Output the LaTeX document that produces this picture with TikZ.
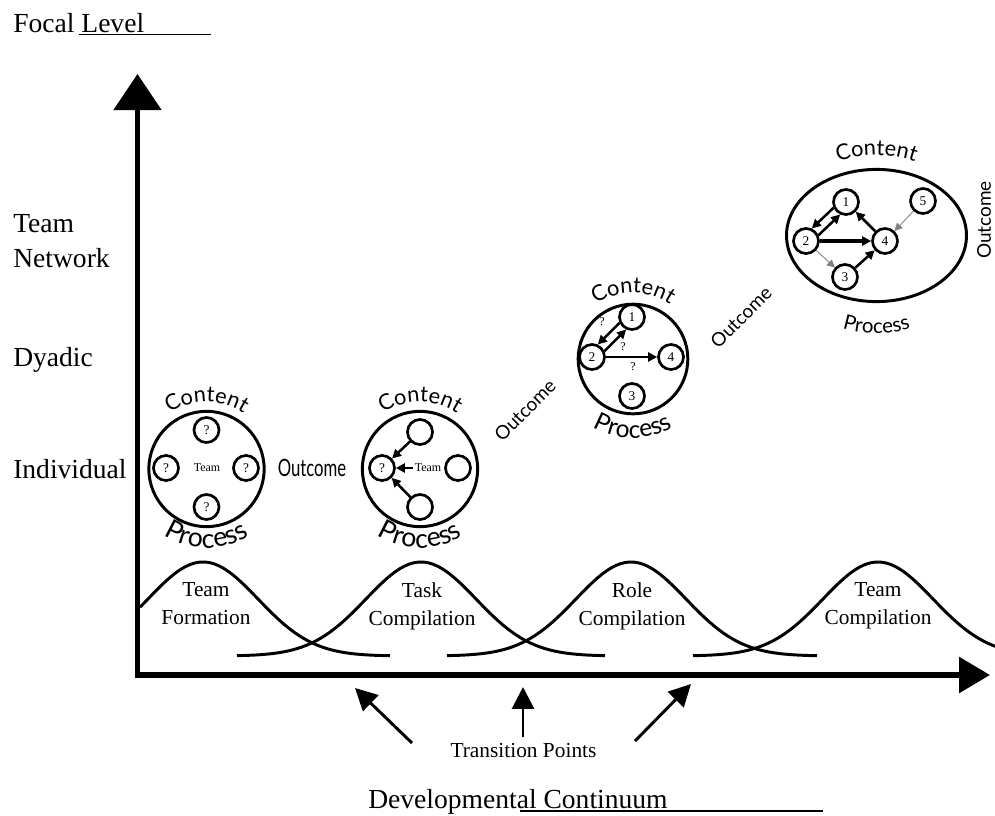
\documentclass[tikz,border=0pt]{standalone}
\usepackage{fontspec}
\usepackage{graphicx}
\setmainfont{Liberation Serif}
\newfontfamily\decofont{Lato}
\usetikzlibrary{arrows.meta,shapes.geometric,decorations.text}
\newcommand\ctfont{\decofont\fontsize{15.5}{16}\selectfont}
\newcommand\prfont{\decofont\fontsize{19}{20}\selectfont}
\newcommand\prmid{\decofont\fontsize{17.5}{18}\selectfont}
\newcommand\prlow{\decofont\fontsize{14.5}{15}\selectfont}

\begin{document}
\begin{tikzpicture}
    [x=0.025cm, y=0.025cm,
    axis/.style={line width=3.6pt, line join=miter},
    level/.style={font=\fontsize{19.6}{24.5}\selectfont, inner sep=0pt, align=left},
    phase/.style={font=\fontsize{15.2}{19.9}\selectfont, inner sep=0pt, align=center},
    bell/.style={line width=2.1pt},
    group/.style={circle, draw, line width=2.1pt, minimum size=82pt, inner sep=0pt},
    member/.style={circle, draw, line width=1.9pt, minimum size=17.8pt, inner sep=0pt, font=\fontsize{9.5}{10}\selectfont},
    small/.style={inner sep=1pt, font=\fontsize{8.5}{9}\selectfont},
    link/.style={line width=1.8pt, -{Triangle[length=6.4pt, width=6.4pt]}},
    faint/.style={line width=0.6pt, gray, -{Triangle[length=5.5pt, width=5.5pt]}},
    pointer/.style={line width=2.1pt, -{Triangle[length=15.6pt, width=15.6pt]}},
    rule/.style={line width=1.1pt},
    outcome/.style={font=\decofont\fontsize{13.5}{14}\selectfont, inner sep=0pt}]
    \useasboundingbox (0,0) rectangle (995,-816);

    % axes
    \coordinate (origin) at (137.5,-675);
    \coordinate (ytip) at (137.5,-74);
    \coordinate (xtip) at (990,-675);
    \draw[axis, {Triangle[length=25.6pt, width=33.4pt]}-{Triangle[length=22pt, width=25pt]}] (ytip) -- (origin) -- (xtip);

    \node[level, anchor=base west] (focal) at (13,-32) {Focal Level};
    \draw[rule] (79,-34.5) -- (211,-34.5);
    \node[level, anchor=west] (network) at (13,-241) {Team\\Network};
    \node[level, anchor=base west] (dyadic) at (13,-366) {Dyadic};
    \node[level, anchor=base west] (individual) at (13,-478) {Individual};

    % phases
    \draw[bell] plot[domain=140:390, samples=80] (\x,{-656+94*exp(-0.5*((\x-203)/55)*((\x-203)/55))});
    \draw[bell] plot[domain=237:605, samples=80] (\x,{-656+94*exp(-0.5*((\x-421)/55)*((\x-421)/55))});
    \draw[bell] plot[domain=447:817, samples=80] (\x,{-656+94*exp(-0.5*((\x-631)/55)*((\x-631)/55))});
    \draw[bell] plot[domain=693:1000, samples=80] (\x,{-656+94*exp(-0.5*((\x-878)/55)*((\x-878)/55))});
    \node[phase] (formation) at (206,-604) {Team\\Formation};
    \node[phase] (task) at (422,-606) {Task\\Compilation};
    \node[phase] (role) at (632,-606) {Role\\Compilation};
    \node[phase] (teamcomp) at (878,-606) {Team\\Compilation};

    % transition points
    \node[phase, anchor=base] (transition) at (523.5,-757) {Transition Points};
    \coordinate (tail1) at (412,-743);
    \coordinate (tail2) at (523,-737);
    \coordinate (tail3) at (635,-741);
    \coordinate (tp1) at (355,-688);
    \coordinate (tp2) at (523,-687);
    \coordinate (tp3) at (691,-684);
    \draw[pointer] (tail1) -- (tp1);
    \draw[pointer] (tail2) -- (tp2);
    \draw[pointer] (tail3) -- (tp3);

    \node[level, anchor=base west] (continuum) at (368,-808) {Developmental Continuum};
    \draw[rule] (520,-811) -- (823,-811);

    % individual
    \node[group] (g1) at (206.5,-469) {};
    \node[member] (g1a) at (206.5,-430) {?};
    \node[member] (g1b) at (166,-468) {?};
    \node[member] (g1c) at (246,-468) {?};
    \node[member] (g1d) at (206.5,-507) {?};
    \node[small] (team1) at (207,-468) {Team};
    \path[decorate, decoration={text along path, text align=center, text={|\ctfont|Content}}]
        (g1.center) ++(150:67) arc[start angle=150, end angle=30, radius=67];
    \path[decorate, decoration={text along path, text align=center, text={|\prfont|Process}}]
        (g1.center) ++(215:79) arc[start angle=215, end angle=325, radius=79];

    \node[font=\decofont\fontsize{17}{17}\selectfont, inner sep=0pt] (out1) at (312,-468) {\scalebox{0.7}[1]{Outcome}};

    % task
    \node[group] (g2) at (420,-469) {};
    \node[member] (g2a) at (420,-432) {};
    \node[member] (g2b) at (382,-468) {?};
    \node[member] (g2c) at (458,-468) {};
    \node[member] (g2d) at (420,-507) {};
    \node[small] (team2) at (428,-468) {Team};
    \draw[link] (g2a) -- (g2b);
    \draw[link] (team2) -- (g2b);
    \draw[link] (g2d) -- (g2b);
    \path[decorate, decoration={text along path, text align=center, text={|\ctfont|Content}}]
        (g2.center) ++(150:67) arc[start angle=150, end angle=30, radius=67];
    \path[decorate, decoration={text along path, text align=center, text={|\prfont|Process}}]
        (g2.center) ++(215:79) arc[start angle=215, end angle=325, radius=79];

    \node[outcome, rotate=45] (out2) at (525,-410) {Outcome};

    % dyadic
    \node[group, minimum size=78pt] (g3) at (633,-359) {};
    \node[member] (d1) at (632,-317) {1};
    \node[member] (d2) at (592,-357) {2};
    \node[member] (d4) at (671,-357) {4};
    \node[member] (d3) at (632,-396) {3};
    \draw[link] (d1.205) -- (d2.65);
    \draw[link] (d2.25) -- (d1.245);
    \draw[link] (d2) -- (d4);
    \node[small] (q1) at (602,-322) {?};
    \node[small] (q2) at (623,-347) {?};
    \node[small] (q3) at (633,-367) {?};
    \path[decorate, decoration={text along path, text align=center, text={|\ctfont|Content}}]
        (g3.center) ++(150:66) arc[start angle=150, end angle=30, radius=66];
    \path[decorate, decoration={text along path, text align=center, text={|\prmid|Process}}]
        (g3.center) ++(215:79) arc[start angle=215, end angle=325, radius=79];

    \node[outcome, rotate=45] (out3) at (741,-317) {Outcome};

    % team network
    \node[ellipse, draw, line width=2.1pt, minimum width=128pt, minimum height=94pt] (g4) at (876.5,-235.5) {};
    \node[member] (n1) at (846,-202) {1};
    \node[member] (n5) at (923,-201) {5};
    \node[member] (n2) at (806,-241) {2};
    \node[member] (n4) at (885,-241) {4};
    \node[member] (n3) at (845,-277) {3};
    \draw[link] (n1.205) -- (n2.65);
    \draw[link] (n2.25) -- (n1.245);
    \draw[link, line width=2.4pt] (n2) -- (n4);
    \draw[faint] (n2) -- (n3);
    \draw[link] (n3) -- (n4);
    \draw[link] (n4) -- (n1);
    \draw[faint] (n5) -- (n4);
    \path[decorate, decoration={text along path, text align=center, text={|\ctfont|Content}}]
        (g4.center) ++(150:100 and 80) arc[start angle=150, end angle=30, x radius=100, y radius=80];
    \path[decorate, decoration={text along path, text align=center, text={|\prlow|Process}}]
        (g4.center) ++(215:108 and 98) arc[start angle=215, end angle=325, x radius=108, y radius=98];

    \node[outcome, rotate=90] (out4) at (984,-220) {Outcome};

\end{tikzpicture}
\end{document}
